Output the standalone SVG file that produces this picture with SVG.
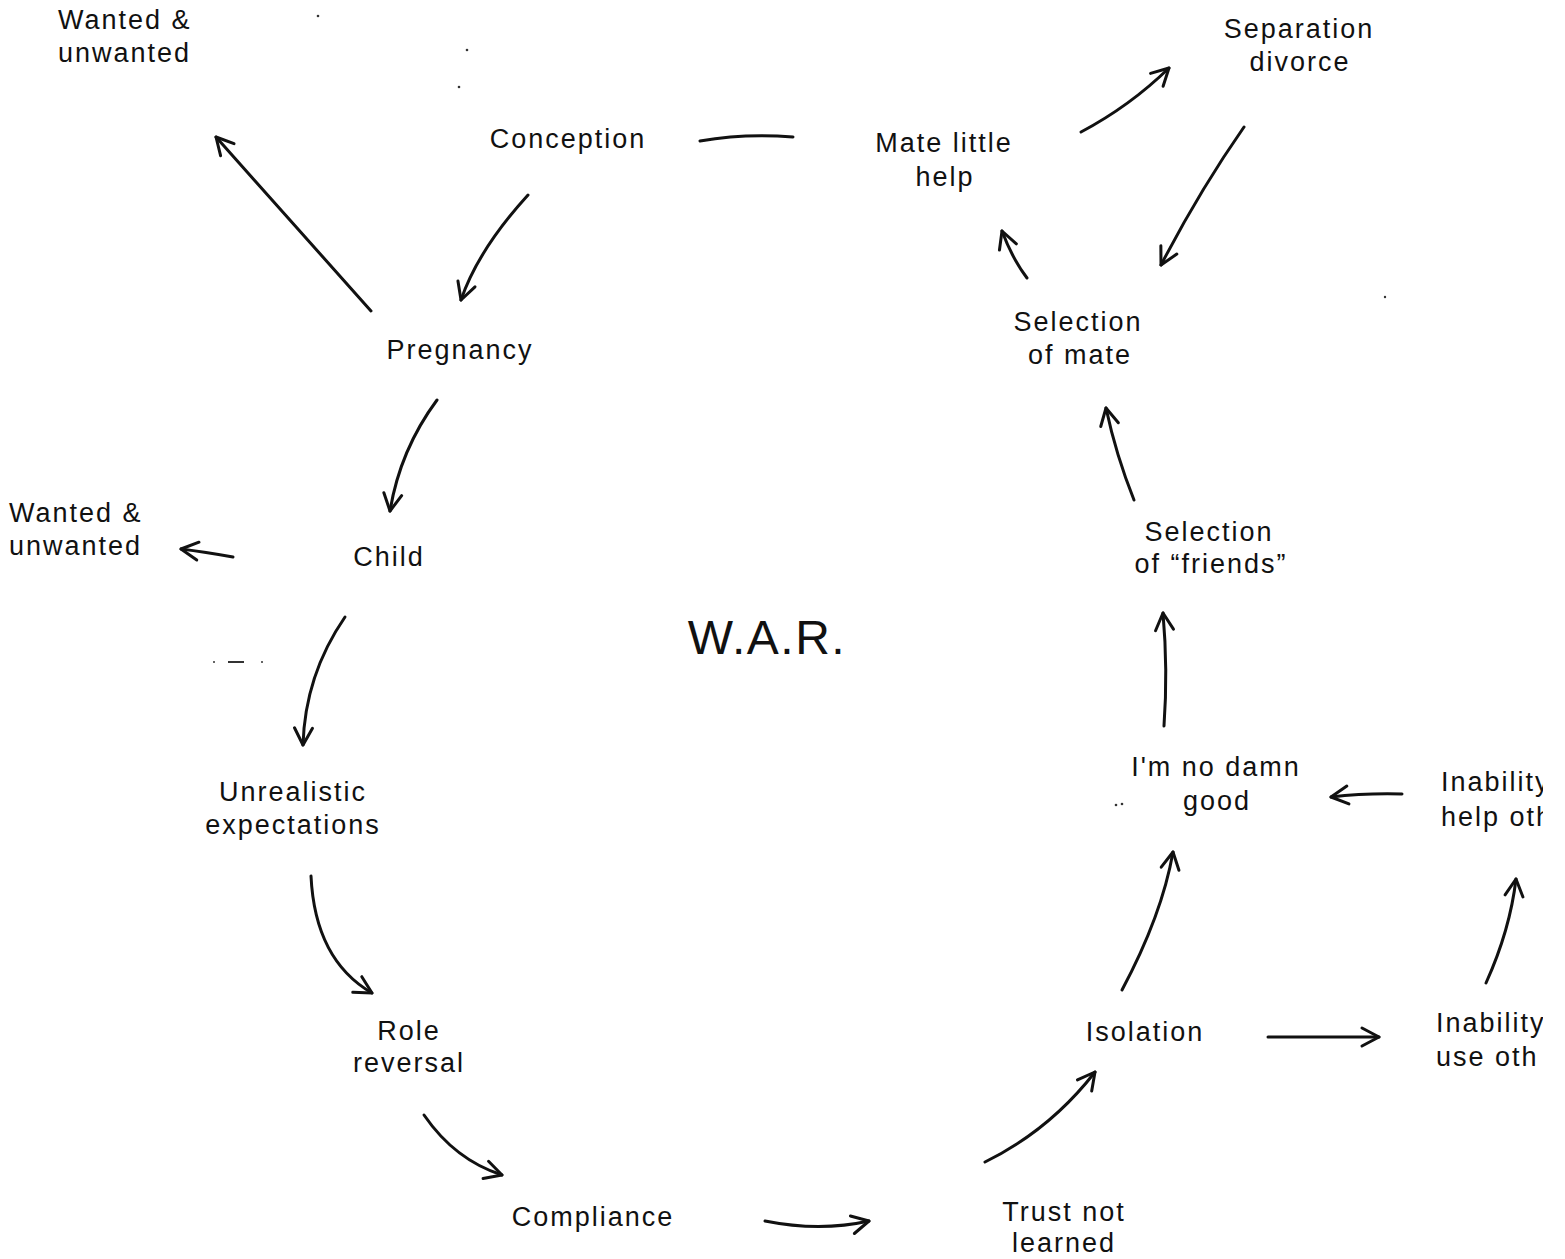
<svg xmlns="http://www.w3.org/2000/svg" width="1565" height="1259" viewBox="0 0 1565 1259">
<style>
  .t { font-family: "Liberation Sans", Arial, sans-serif; font-size: 27px; letter-spacing: 2px; fill: #111; text-anchor: middle; }
  .l { text-anchor: start; }
  .war { font-family: "Liberation Sans", Arial, sans-serif; font-size: 48px; letter-spacing: 1.5px; fill: #111; text-anchor: middle; }
  .c path { fill: none; stroke: #111; stroke-width: 3; stroke-linecap: round; stroke-linejoin: round; }
  .dot { fill: #333; }
</style>
<defs>
  <marker id="ah" markerUnits="userSpaceOnUse" markerWidth="40" markerHeight="40" viewBox="-20 -20 40 40" refX="0" refY="0" orient="auto" overflow="visible">
    <path d="M-17,-9 L0,0 L-17,9" fill="none" stroke="#111" stroke-width="3" stroke-linecap="round" stroke-linejoin="round"/>
  </marker>
  <clipPath id="edge"><rect x="0" y="0" width="1543" height="1259"/></clipPath>
</defs>
<rect width="1565" height="1259" fill="#fff"/>

<g id="n-wanted-top"><text class="t l" x="58" y="29">Wanted &amp;</text><text class="t l" x="58" y="62">unwanted</text></g>
<g id="n-conception"><text class="t" x="568" y="148">Conception</text></g>
<g id="n-mate-help"><text class="t" x="944" y="152">Mate little</text><text class="t" x="945" y="186">help</text></g>
<g id="n-separation"><text class="t" x="1299" y="38">Separation</text><text class="t" x="1300" y="71">divorce</text></g>
<g id="n-pregnancy"><text class="t" x="460" y="359">Pregnancy</text></g>
<g id="n-sel-mate"><text class="t" x="1078" y="331">Selection</text><text class="t" x="1080" y="364">of mate</text></g>
<g id="n-wanted-mid"><text class="t l" x="9" y="522">Wanted &amp;</text><text class="t l" x="9" y="555">unwanted</text></g>
<g id="n-child"><text class="t" x="389" y="566">Child</text></g>
<g id="n-sel-friends"><text class="t" x="1209" y="541">Selection</text><text class="t" x="1211" y="573">of “friends”</text></g>
<g id="n-war"><text class="war" x="767" y="654">W.A.R.</text></g>
<g id="n-unrealistic"><text class="t" x="293" y="801">Unrealistic</text><text class="t" x="293" y="834">expectations</text></g>
<g id="n-nogood"><text class="t" x="1216" y="776">I'm no damn</text><text class="t" x="1217" y="810">good</text></g>
<g id="n-inab-help" clip-path="url(#edge)"><text class="t l" x="1441" y="791">Inability</text><text class="t l" x="1441" y="826">help oth</text></g>
<g id="n-role"><text class="t" x="409" y="1040">Role</text><text class="t" x="409" y="1072">reversal</text></g>
<g id="n-isolation"><text class="t" x="1145" y="1041">Isolation</text></g>
<g id="n-inab-use" clip-path="url(#edge)"><text class="t l" x="1436" y="1032">Inability</text><text class="t l" x="1436" y="1066">use oth</text></g>
<g id="n-compliance"><text class="t" x="593" y="1226">Compliance</text></g>
<g id="n-trust"><text class="t" x="1064" y="1221">Trust not</text><text class="t" x="1064" y="1252">learned</text></g>

<g id="connectors" class="c">
  <path d="M371,311 L216,137" marker-end="url(#ah)"/>
  <path d="M528,195 Q478,250 461,300" marker-end="url(#ah)"/>
  <path d="M700,141 Q745,133 793,137"/>
  <path d="M1081,132 Q1130,106 1169,68" marker-end="url(#ah)"/>
  <path d="M1244,127 Q1200,190 1161,265" marker-end="url(#ah)"/>
  <path d="M1027,278 Q1012,258 1002,231" marker-end="url(#ah)"/>
  <path d="M437,400 Q400,450 390,511" marker-end="url(#ah)"/>
  <path d="M233,557 Q205,552 181,549" marker-end="url(#ah)"/>
  <path d="M345,617 Q305,675 303,745" marker-end="url(#ah)"/>
  <path d="M311,876 Q315,960 372,993" marker-end="url(#ah)"/>
  <path d="M424,1115 Q455,1160 502,1175" marker-end="url(#ah)"/>
  <path d="M765,1221 Q820,1232 869,1221" marker-end="url(#ah)"/>
  <path d="M985,1162 Q1050,1130 1095,1072" marker-end="url(#ah)"/>
  <path d="M1122,990 Q1162,915 1173,852" marker-end="url(#ah)"/>
  <path d="M1164,726 Q1168,670 1163,613" marker-end="url(#ah)"/>
  <path d="M1134,500 Q1116,455 1106,408" marker-end="url(#ah)"/>
  <path d="M1268,1037 L1379,1037" marker-end="url(#ah)"/>
  <path d="M1486,983 Q1510,930 1516,879" marker-end="url(#ah)"/>
  <path d="M1402,794 Q1365,793 1331,797" marker-end="url(#ah)"/>
</g>

<g id="specks">
  <circle class="dot" cx="318" cy="16" r="1.3"/>
  <circle class="dot" cx="467" cy="50" r="1.3"/>
  <circle class="dot" cx="459" cy="87" r="1.3"/>
  <circle class="dot" cx="1385" cy="297" r="1.2"/>
  <circle class="dot" cx="1116" cy="805" r="1.3"/>
  <circle class="dot" cx="1122" cy="804" r="1.3"/>
  <rect class="dot" x="228" y="661" width="16" height="2"/>
  <circle class="dot" cx="214" cy="662" r="1"/>
  <circle class="dot" cx="262" cy="662" r="1"/>
</g>
</svg>
